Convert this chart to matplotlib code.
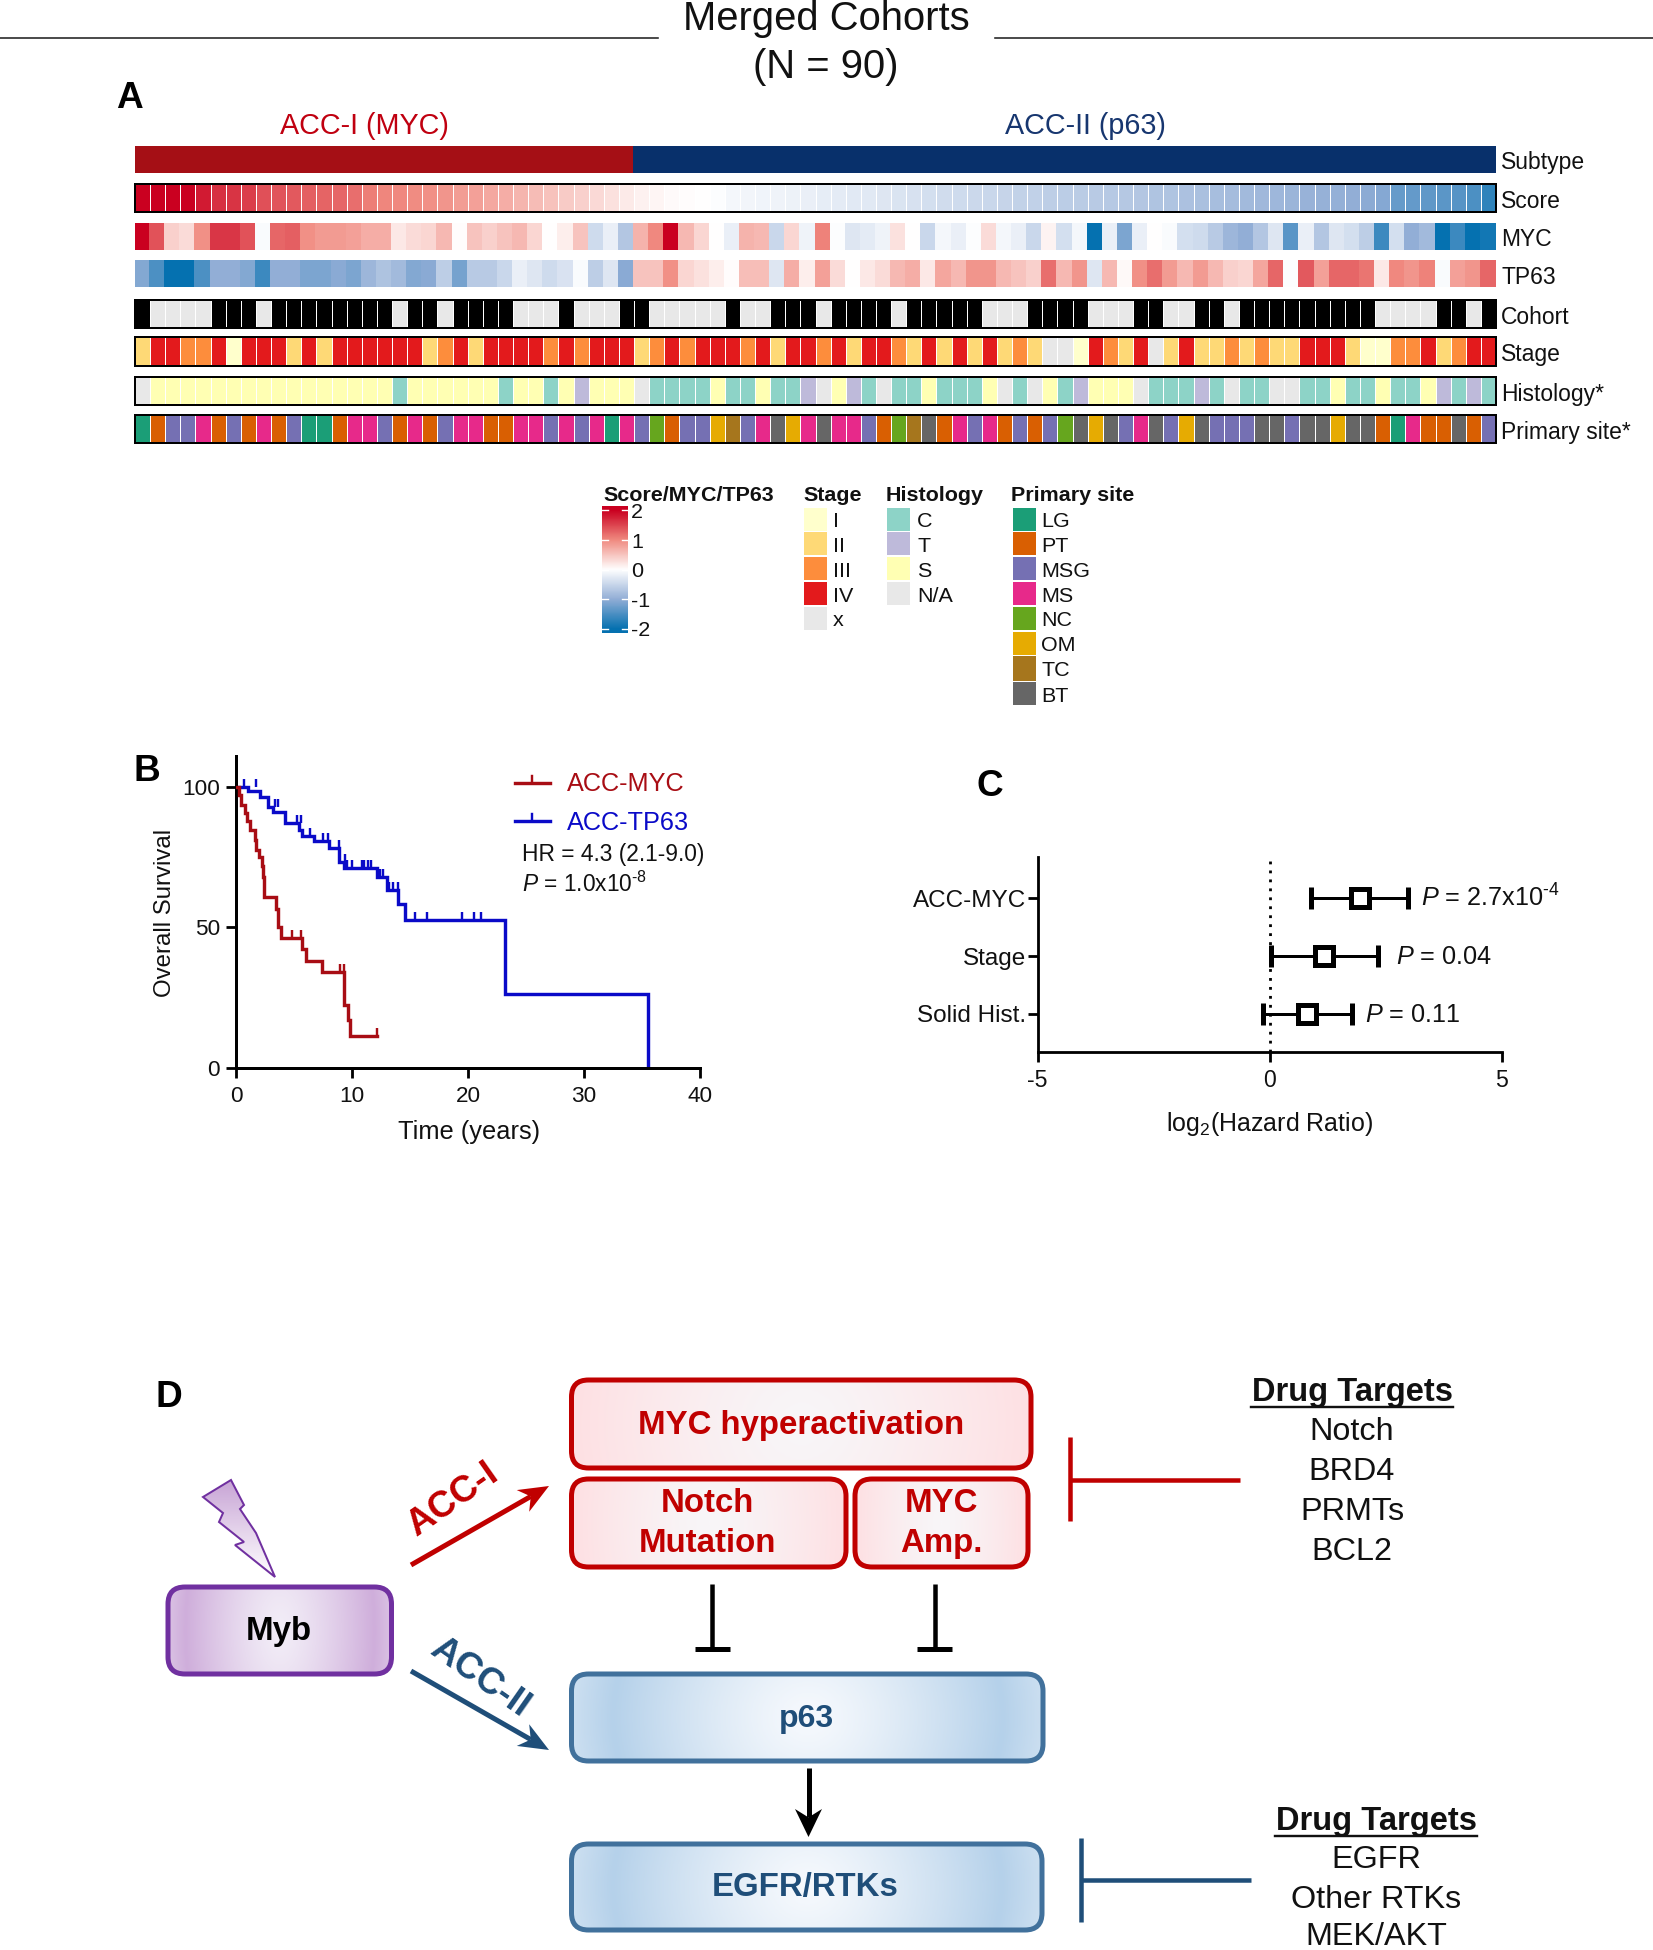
import numpy as np
import matplotlib
matplotlib.use("Agg")
import matplotlib.pyplot as plt
from matplotlib.colors import LinearSegmentedColormap, ListedColormap
from matplotlib.patches import FancyBboxPatch, Polygon, Rectangle
from matplotlib.markers import TICKUP

plt.rcParams['font.family'] = ['Liberation Sans', 'DejaVu Sans']
plt.rcParams['mathtext.fontset'] = 'custom'
plt.rcParams['mathtext.rm'] = 'Liberation Sans'
plt.rcParams['mathtext.it'] = 'Liberation Sans:italic'
plt.rcParams['mathtext.bf'] = 'Liberation Sans:bold'

# ---------- data: panel A ----------
subtype = [0] * 33 + [1] * 57
score = [2, 2, 2, 2, 1.8, 1.65, 1.62, 1.55, 1.42, 1.38, 1.35, 1.3, 1.28, 1.25, 1.2, 1.08, 1.02, 1.0, .97, .94,
         .9, .84, .8, .74, .7, .64, .57, .52, .44, .4, .32, .26, .18, .12, .08, .04, .02, 0, -.02, -.1,
         -.12, -.13, -.15, -.17, -.19, -.22, -.24, -.27, -.28, -.3, -.33, -.36, -.4, -.43, -.45, -.48, -.5, -.52, -.55, -.57,
         -.6, -.62, -.63, -.65, -.67, -.68, -.7, -.72, -.73, -.76, -.78, -.8, -.82, -.85, -.87, -.89, -.92, -.94, -.96, -.98,
         -1.0, -1.04, -1.08, -1.3, -1.32, -1.35, -1.38, -1.42, -1.5, -1.7]
myc = [2, 1.4, .4, .3, .95, 1.6, 1.6, 1.4, -.05, 1.25, 1.3, .95, .85, .85, .8, .7, .7, .2, .3, .35,
       .6, .03, .5, .4, .5, .6, .35, 0, .15, .5, -.45, -.2, -.7, .65, 1.0, 2, .6, .35, 0, -.2,
       .65, .6, -.5, .35, -.15, 1.05, -.03, -.3, -.25, -.15, .25, 0, -.5, -.1, -.2, -.02, .3, -.1, -.2, -.5,
       .1, -.4, -.1, -2, -.2, -1.15, -.2, 0, -.05, -.4, -.45, -.65, -.9, -1.0, -.7, -.3, -1.4, -.2, -.7, -.3,
       -.4, -.6, -1.6, -.4, -1.0, -.85, -2, -1.6, -2, -1.9]
tp63 = [-1.1, -1.5, -2, -2, -1.5, -1.0, -1.0, -1.1, -1.6, -1.0, -1.0, -1.15, -1.15, -1.05, -1.15, -.9, -.75, -.85, -1.1, -1.05,
        -.6, -1.2, -.65, -.65, -.5, -.2, -.3, -.45, -.35, -.05, -.6, -.3, -1.05, .5, .5, .95, .35, .25, .15, .02,
        .55, .55, -.3, .7, .15, .8, .3, 0, .2, .3, .6, .7, .2, .75, .6, .9, .9, .6, .5, .4,
        1.2, .6, .9, -.3, .6, .05, .95, 1.2, .85, .6, .85, .6, .4, .35, .75, 1.25, -.02, 1.35, .8, 1.25,
        1.25, 1.15, .2, 1.0, .9, 1.05, -.05, .8, .9, 1.25]
cohort = [1, 0, 0, 0, 0, 1, 1, 1, 0, 1, 1, 1, 1, 1, 1, 1, 1, 0, 1, 1,
          0, 1, 1, 1, 1, 0, 0, 0, 1, 0, 0, 0, 1, 1, 0, 0, 0, 0, 0, 1,
          0, 0, 1, 1, 1, 0, 1, 1, 1, 1, 0, 1, 1, 1, 1, 1, 0, 0, 0, 1,
          1, 1, 1, 0, 0, 0, 1, 1, 0, 0, 1, 1, 0, 1, 1, 1, 1, 1, 1, 1,
          1, 1, 0, 0, 0, 0, 1, 1, 0, 1]
stage = ['II', 'IV', 'IV', 'III', 'III', 'IV', 'I', 'IV', 'IV', 'IV', 'II', 'IV', 'II', 'IV', 'IV', 'IV', 'IV', 'IV', 'IV', 'II',
         'III', 'IV', 'II', 'IV', 'IV', 'IV', 'IV', 'III', 'IV', 'III', 'IV', 'IV', 'IV', 'II', 'III', 'IV', 'III', 'IV', 'IV', 'IV',
         'III', 'IV', 'II', 'IV', 'IV', 'III', 'IV', 'II', 'IV', 'IV', 'III', 'II', 'IV', 'II', 'IV', 'II', 'IV', 'II', 'III', 'II',
         'x', 'x', 'I', 'IV', 'III', 'II', 'IV', 'x', 'II', 'IV', 'II', 'II', 'III', 'II', 'III', 'II', 'II', 'IV', 'IV', 'IV',
         'II', 'I', 'I', 'III', 'III', 'IV', 'II', 'III', 'IV', 'IV']
histology = ['N/A'] + ['S'] * 16 + ['C'] + ['S'] * 6 + ['C', 'S', 'S', 'C', 'S', 'T', 'S', 'S', 'S', 'N/A', 'C', 'C', 'C', 'C', 'S',
             'C', 'C', 'S', 'C', 'C', 'T', 'N/A', 'S', 'T', 'C', 'N/A', 'C', 'C', 'S', 'C', 'C', 'C', 'S', 'N/A', 'C', 'N/A',
             'S', 'C', 'T', 'S', 'S', 'S', 'N/A', 'C', 'C', 'C', 'T', 'C', 'N/A', 'C', 'C', 'N/A', 'N/A', 'C', 'C', 'S', 'C', 'C',
             'S', 'C', 'C', 'S', 'T', 'C', 'T', 'C']
site = ['LG', 'PT', 'MSG', 'MSG', 'MS', 'PT', 'MSG', 'PT', 'MS', 'PT', 'MSG', 'LG', 'LG', 'PT', 'MS', 'MS', 'MSG', 'PT', 'MS', 'PT',
        'MSG', 'MS', 'MS', 'PT', 'PT', 'MS', 'MS', 'MSG', 'MS', 'MSG', 'MS', 'LG', 'MS', 'MSG', 'NC', 'PT', 'MSG', 'MSG', 'OM', 'TC',
        'MSG', 'MS', 'BT', 'OM', 'MS', 'BT', 'MS', 'MS', 'MSG', 'PT', 'NC', 'TC', 'BT', 'PT', 'MS', 'MSG', 'MS', 'PT', 'MSG', 'PT',
        'MSG', 'NC', 'BT', 'OM', 'BT', 'MSG', 'MS', 'BT', 'MSG', 'OM', 'BT', 'MSG', 'MSG', 'MSG', 'BT', 'BT', 'MSG', 'BT', 'BT', 'OM',
        'BT', 'BT', 'PT', 'LG', 'MS', 'PT', 'PT', 'BT', 'PT', 'MSG']

stage_levels = ['I', 'II', 'III', 'IV', 'x']
stage_colors = ['#ffffcc', '#fed976', '#fd8d3c', '#e31a1c', '#e8e8e8']
hist_levels = ['C', 'T', 'S', 'N/A']
hist_colors = ['#8dd3c7', '#bebada', '#ffffb3', '#e8e8e8']
site_levels = ['LG', 'PT', 'MSG', 'MS', 'NC', 'OM', 'TC', 'BT']
site_colors = ['#1b9e77', '#d95f02', '#7570b3', '#e7298a', '#66a61e', '#e6ab02', '#a6761d', '#666666']
div_colors = ['#0571b0', '#92aed6', '#ffffff', '#f08a80', '#ca0020']
row_names = ['Subtype', 'Score', 'MYC', 'TP63', 'Cohort', 'Stage', 'Histology*', 'Primary site*']

# ---------- data: panel B ----------
myc_t = [0, .25, .45, .75, .95, 1.25, 1.6, 1.75, 1.95, 2.2, 2.3, 2.45, 3.45, 3.65, 3.85, 5.65, 6.05, 7.4, 9.35, 9.65, 9.8, 12.15]
myc_s = [100, 97, 93.7, 90.7, 87.8, 84.6, 81, 77.7, 75, 71.7, 68, 61, 56.5, 50.3, 46.4, 42.3, 38.2, 34, 22.5, 17, 11.4, 11.4]
myc_cens_t = [4.8, 5.6, 8.95, 9.3, 12.15]
myc_cens_s = [46.4, 46.4, 34, 34, 11.4]
tp_t = [0, 1.0, 2.1, 2.8, 3.2, 4.2, 5.4, 5.7, 6.7, 8.0, 8.85, 9.35, 12.15, 13.0, 13.95, 14.6, 23.2, 35.5, 35.5]
tp_s = [100, 98.5, 96.4, 93, 91, 87, 84.8, 82.7, 80.6, 78.3, 73.2, 71.1, 67.8, 63.2, 58.3, 52.7, 26.4, 0, 0]
tp_cens_t = [.7, 1.75, 3.4, 3.6, 5.3, 5.6, 6.4, 7.5, 7.9, 8.9, 9.4, 9.6, 10.0, 10.9, 11.0, 11.4, 11.6, 12.4, 12.7, 13.2, 13.5, 14.0, 15.4, 16.5, 19.5, 20.5, 21.1]
tp_cens_s = [100, 100, 93, 93, 87, 87, 82.7, 80.6, 80.6, 78.3, 73.2, 71.1, 71.1, 71.1, 71.1, 71.1, 71.1, 67.8, 67.8, 63.2, 63.2, 63.2, 52.7, 52.7, 52.7, 52.7, 52.7]

# ---------- data: panel C ----------
forest_labels = ['ACC-MYC', 'Stage', 'Solid Hist.']
forest_hr = [1.94, 1.17, .81]
forest_lo = [.88, .02, -.15]
forest_hi = [2.97, 2.33, 1.78]
forest_p = [r'$\it{P}$ = 2.7x10$^{\text{-}4}$', r'$\it{P}$ = 0.04', r'$\it{P}$ = 0.11']

# ---------- helpers ----------
W, H = 1653, 1950
fig = plt.figure(figsize=(W / 100, H / 100), dpi=100, facecolor='white')
ov = fig.add_axes([0, 0, 1, 1], zorder=0)
ov.set_xlim(0, W)
ov.set_ylim(H, 0)
ov.axis('off')
ov.autoscale(False)


def pt(px):
    return px * 0.72


def axpx(x0, y0, x1, y1, **kw):
    a = fig.add_axes([x0 / W, 1 - y1 / H, (x1 - x0) / W, (y1 - y0) / H], **kw)
    a.patch.set_alpha(0)
    return a


def T(x, y, s, px=23, ha='left', va='center', **kw):
    dy = 0 if kw.get('rotation') else 2.5
    return ov.text(x, y + dy, s, fontsize=pt(px), ha=ha, va=va, **kw)


# ---------- title ----------
T(826, 16, 'Merged Cohorts', 40, ha='center', color='#111111')
T(826, 65, '(N = 90)', 40, ha='center', color='#111111')
ov.plot([0, 658], [38, 38], color='#222222', lw=pt(1.6))
ov.plot([995, 1653], [38, 38], color='#222222', lw=pt(1.6))

# ---------- panel A ----------
T(116, 96, 'A', 37, weight='bold')
T(364.5, 123, 'ACC-I (MYC)', 28.7, ha='center', color='#c00010')
T(1085, 123, 'ACC-II (p63)', 28.7, ha='center', color='#17366f')

X0, X1 = 135, 1496
div = LinearSegmentedColormap.from_list('div', div_colors)
rows = [
    (subtype, ListedColormap(['#a50f15', '#08306b']), 0, 1, 145.5, 173, False, False),
    (score, div, -2, 2, 184, 212, True, True),
    (myc, div, -2, 2, 222.5, 250, False, False),
    (tp63, div, -2, 2, 260, 287, False, False),
    (cohort, ListedColormap(['#e8e8e8', '#000000']), 0, 1, 299.5, 328, True, True),
    ([stage_levels.index(v) for v in stage], ListedColormap(stage_colors), 0, 4, 337.5, 365.5, True, True),
    ([hist_levels.index(v) for v in histology], ListedColormap(hist_colors), 0, 3, 377, 405, True, True),
    ([site_levels.index(v) for v in site], ListedColormap(site_colors), 0, 7, 415, 442.5, True, True),
]
for name, (vals, cmap, vmin, vmax, y0, y1, sep, frame) in zip(row_names, rows):
    a = axpx(X0, y0, X1, y1)
    arr = np.array(vals, float)[None, :]
    a.pcolormesh(np.arange(len(vals) + 1), [0, 1], arr, cmap=cmap, vmin=vmin, vmax=vmax,
                 edgecolors='white' if sep else 'face', linewidth=0.7 if sep else 0.2)
    a.set_xlim(0, len(vals))
    a.set_ylim(0, 1)
    a.set_xticks([])
    a.set_yticks([])
    for sp in a.spines.values():
        sp.set_visible(frame)
        sp.set_linewidth(pt(2))
        sp.set_color('black')
    T(1501, (y0 + y1) / 2 + 1, name, 22.9, color='#111111')

# legends
T(603.5, 493, 'Score/MYC/TP63', 21.5, weight='bold', color='#111111')
cb = axpx(602, 506, 628, 633)
grad = np.linspace(2.12, -2.12, 128)[:, None]
cb.imshow(grad, cmap=div, vmin=-2, vmax=2, aspect='auto', extent=(0, 1, -2.12, 2.12))
cb.set_xticks([])
cb.set_yticks([])
for sp in cb.spines.values():
    sp.set_visible(False)
cb_ticks = [2, 1, 0, -1, -2]
for v in cb_ticks:
    cb.plot([0, .22], [v, v], color='white', lw=1)
    cb.plot([.78, 1], [v, v], color='white', lw=1)
    y = 569.3 - v * 29.5
    T(631, y, str(v), 21.5, color='#111111')


def legend_col(title, tx, sx, lx, levels, colors, ys):
    T(tx, 493, title, 21.5, weight='bold', color='#111111')
    for lev, col, (y0, y1) in zip(levels, colors, ys):
        ov.add_patch(Rectangle((sx, y0), 23, y1 - y0, fc=col, ec='none'))
        T(lx, (y0 + y1) / 2, lev, 21.5, color='#111111')


ys_leg = [(507.7, 530.5), (532.3, 555.3), (557.3, 580.2), (582, 605), (607, 630), (631.7, 654.7), (656.3, 680.5), (682.3, 705.3)]
legend_col('Stage', 803.5, 803.5, 833, stage_levels, stage_colors, ys_leg)
legend_col('Histology', 885.5, 887, 917, hist_levels, hist_colors, ys_leg)
legend_col('Primary site', 1011, 1013, 1041.5, site_levels, site_colors, ys_leg)

# ---------- panel B ----------
T(133, 769, 'B', 37, weight='bold')
ak = axpx(236, 756, 700, 1068)
RED, BLUE = '#a80d14', '#0a0ac8'
ak.step(myc_t, myc_s, where='post', color=RED, lw=pt(3.4), solid_joinstyle='miter', zorder=3)
ak.step(tp_t, tp_s, where='post', color=BLUE, lw=pt(3.4), solid_joinstyle='miter', zorder=2)
ak.plot(myc_cens_t, myc_cens_s, ls='none', marker=TICKUP, ms=pt(8), mew=pt(2.4), color=RED, clip_on=False)
ak.plot(tp_cens_t, tp_cens_s, ls='none', marker=TICKUP, ms=pt(8), mew=pt(2.4), color=BLUE, clip_on=False)
ak.set_xlim(0, 40)
ak.set_ylim(0, 111)
ak.set_xticks([0, 10, 20, 30, 40])
ak.set_yticks([0, 50, 100])
ak.tick_params(labelsize=pt(22.5), width=pt(2.8), length=pt(10), pad=pt(6), labelcolor='#111111')
ak.tick_params(axis='x', pad=pt(8))
for s in ('top', 'right'):
    ak.spines[s].set_visible(False)
for s in ('left', 'bottom'):
    ak.spines[s].set_linewidth(pt(3))
T(165, 913, 'Overall Survival', 24, ha='center', rotation=90, color='#111111')
T(468.7, 1130, 'Time (years)', 25.4, ha='center', color='#111111')
for yy, col, lab in [(782.7, RED, 'ACC-MYC'), (821, BLUE, 'ACC-TP63')]:
    ov.plot([514.6, 550], [yy, yy], color=col, lw=pt(3.4))
    ov.plot([532.3, 532.3], [yy - 7, yy], color=col, lw=pt(2.4))
    T(567, yy - 1, lab, 25.2, color=col)
T(522, 852, 'HR = 4.3 (2.1-9.0)', 22.7, color='#111111')
T(522, 882, r'$\it{P}$ = 1.0x10$^{\text{-}8}$', 22.7, color='#111111')

# ---------- panel C ----------
T(977, 784, 'C', 37, weight='bold')
fa = axpx(1037.5, 857.3, 1501.8, 1052.3)
yy = np.arange(len(forest_labels), 0, -1)
fa.axvline(0, color='black', lw=pt(2.8), ls=(0, (1, 2.2)), zorder=1)
fa.errorbar(forest_hr, yy, xerr=[np.array(forest_hr) - forest_lo, np.array(forest_hi) - forest_hr],
            fmt='s', ms=pt(18), mfc='white', mec='black', mew=pt(5), ecolor='black',
            elinewidth=pt(3), capsize=pt(11), capthick=pt(3), zorder=3)
fa.set_xlim(-5, 5)
fa.set_ylim(1 - .663, 1 + 2.71)
fa.set_xticks([-5, 0, 5])
fa.set_xticklabels(['-5', '0', '5'])
fa.set_yticks(yy)
fa.set_yticklabels(forest_labels)
fa.tick_params(labelsize=pt(24.3), width=pt(2.8), length=pt(10), pad=pt(1), labelcolor='#111111')
fa.tick_params(axis='x', labelsize=pt(23), pad=pt(7))
for s in ('top', 'right'):
    fa.spines[s].set_visible(False)
for s in ('left', 'bottom'):
    fa.spines[s].set_linewidth(pt(2.8))
for s, x0, y in zip(forest_p, [1421, 1396, 1365], [896, 954, 1012]):
    T(x0, y, s, 25.2, color='#111111')
T(1269.6, 1122, r'log$_{2}$(Hazard Ratio)', 25, ha='center', color='#111111')

# ---------- panel D ----------
T(155, 1395, 'D', 37, weight='bold')


def grad_box(x0, y0, x1, y1, edge, c_edge, c_mid, peak=1.0):
    nx, ny = 200, 60
    u, v = np.meshgrid(np.linspace(-1, 1, nx), np.linspace(-1, 1, ny))
    r = np.sqrt(u ** 2 + (0.2 * v) ** 2)
    t = np.where(r < peak, (r / peak) ** 1.3, np.clip(1 - (r - peak) * 2.0, 0, 1))
    cm = LinearSegmentedColormap.from_list('g', [c_mid, c_edge])
    im = ov.imshow(t, extent=(x0, x1, y1, y0), cmap=cm, vmin=0, vmax=1, aspect='auto', zorder=1)
    p = FancyBboxPatch((x0, y0), x1 - x0, y1 - y0, boxstyle='round,pad=0,rounding_size=17',
                       fc='none', ec=edge, lw=pt(5), zorder=2)
    ov.add_patch(p)
    im.set_clip_path(p)


R_E, R_F, R_M = '#c00000', '#fee0e3', '#f8f6f8'
B_E, B_F, B_M = '#41719c', '#b5d1ea', '#f6f9fd'
P_E, P_F, P_M = '#7030a0', '#cfaedb', '#f2edf7'
grad_box(571.5, 1380, 1031, 1468, R_E, R_F, R_M)
grad_box(571.5, 1479, 846, 1567, R_E, R_F, R_M)
grad_box(855, 1479, 1028, 1567, R_E, R_F, R_M)
grad_box(168, 1587, 391.5, 1674, P_E, P_F, P_M, peak=.85)
grad_box(571.5, 1674, 1043, 1761, B_E, B_F, B_M, peak=.83)
grad_box(571.5, 1844, 1042, 1930, B_E, B_F, B_M, peak=.83)

TXT_R, TXT_B = '#c00000', '#1f4e79'
T(800.6, 1423, 'MYC hyperactivation', 33, ha='center', weight='bold', color=TXT_R, zorder=5)
T(707, 1501, 'Notch', 33, ha='center', weight='bold', color=TXT_R, zorder=5)
T(707, 1541, 'Mutation', 33, ha='center', weight='bold', color=TXT_R, zorder=5)
T(941, 1501, 'MYC', 33, ha='center', weight='bold', color=TXT_R, zorder=5)
T(941, 1541, 'Amp.', 33, ha='center', weight='bold', color=TXT_R, zorder=5)
T(279, 1629, 'Myb', 33, ha='center', weight='bold', color='black', zorder=5)
T(806.7, 1716, 'p63', 32, ha='center', weight='bold', color=TXT_B, zorder=5)
T(805, 1885, 'EGFR/RTKs', 33, ha='center', weight='bold', color=TXT_B, zorder=5)

# lightning bolt
bolt = [(231, 1480), (203, 1497), (223, 1513), (219, 1522), (244, 1542), (235, 1545), (275, 1577),
        (256, 1533), (240, 1509), (244, 1505)]
bp = Polygon(bolt, closed=True, fc='none', ec='#7030a0', lw=pt(2), zorder=3)
ov.add_patch(bp)
bg = ov.imshow(np.linspace(0, 1, 64)[:, None], extent=(200, 278, 1578, 1478),
               cmap=LinearSegmentedColormap.from_list('b', ['#c7a3d5', '#ffffff']), aspect='auto', zorder=2)
bg.set_clip_path(bp)


# arrows with a concave (stealth) head
def stealth(a0, a1, col, lw=5, length=30, width=25, notch=.3):
    a0, a1 = np.array(a0, float), np.array(a1, float)
    d = (a1 - a0) / np.hypot(*(a1 - a0))
    n = np.array([-d[1], d[0]])
    back = a1 - d * length
    mid = a1 - d * length * (1 - notch)
    ov.plot([a0[0], mid[0]], [a0[1], mid[1]], color=col, lw=pt(lw), solid_capstyle='butt', zorder=4)
    ov.add_patch(Polygon([a1, back + n * width / 2, mid, back - n * width / 2], closed=True, fc=col, ec='none', zorder=4))


stealth((411, 1565), (549, 1486), '#c00000')
stealth((411, 1671), (549, 1750), '#1f4e79')
stealth((808.5, 1768), (808.5, 1837), 'black', width=27, length=28)
T(453, 1500, 'ACC-I', 37, ha='center', weight='bold', color='#c00000', rotation=35, rotation_mode='anchor', zorder=5)
T(480, 1678, 'ACC-II', 37, ha='center', weight='bold', color='#1f4e79', rotation=-35, rotation_mode='anchor', zorder=5)

# inhibition bars
for x in (712, 934.5):
    ov.plot([x, x], [1584, 1648], color='black', lw=pt(4.5), solid_capstyle='butt')
    ov.plot([x - 17.5, x + 17.5], [1648.5, 1648.5], color='black', lw=pt(5), solid_capstyle='butt')
ov.plot([1070, 1070], [1437, 1521], color='#c00000', lw=pt(4.5), solid_capstyle='butt')
ov.plot([1070, 1240], [1480, 1480], color='#c00000', lw=pt(4.5), solid_capstyle='butt')
ov.plot([1081, 1081], [1838, 1922], color='#1f4e79', lw=pt(4.5), solid_capstyle='butt')
ov.plot([1081, 1251], [1880, 1880], color='#1f4e79', lw=pt(4.5), solid_capstyle='butt')

# drug targets
targets_1 = ['Notch', 'BRD4', 'PRMTs', 'BCL2']
targets_2 = ['EGFR', 'Other RTKs', 'MEK/AKT']
T(1352, 1390, 'Drug Targets', 32.6, ha='center', weight='bold', color='#111111')
ov.plot([1251, 1453], [1407, 1407], color='#111111', lw=pt(2.4))
for s, y in zip(targets_1, [1430, 1470, 1510, 1550]):
    T(1352, y, s, 32.4, ha='center', color='#111111')
T(1376, 1819, 'Drug Targets', 32.6, ha='center', weight='bold', color='#111111')
ov.plot([1275, 1477], [1836, 1836], color='#111111', lw=pt(2.4))
for s, y in zip(targets_2, [1858, 1898, 1934.5]):
    T(1376, y, s, 32.4, ha='center', color='#111111')

fig.savefig('out.png', dpi=100, facecolor='white')
